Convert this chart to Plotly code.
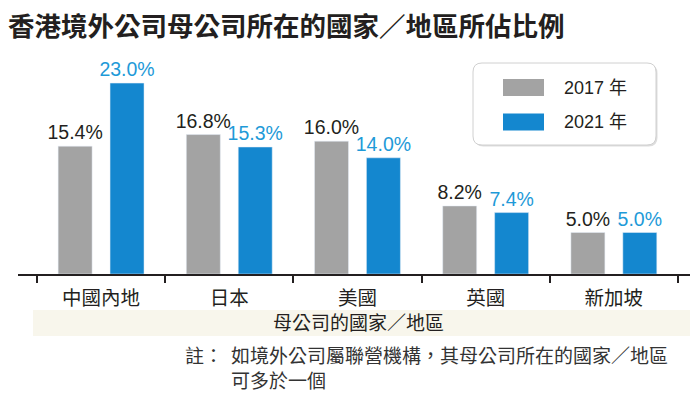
import plotly.graph_objects as go

categories = ["中國內地", "日本", "美國", "英國", "新加坡"]
values_2017 = [15.4, 16.8, 16.0, 8.2, 5.0]
values_2021 = [23.0, 15.3, 14.0, 7.4, 5.0]
series_names = ["2017 年", "2021 年"]
title_text = "香港境外公司母公司所在的國家／地區所佔比例"
axis_title = "母公司的國家／地區"
note_label = "註："
note_lines = ["如境外公司屬聯營機構，其母公司所在的國家／地區", "可多於一個"]

W, H = 700, 397
ML, MR, MT, MB = 18, 10, 66, 123
PW, PH = W - ML - MR, H - MT - MB
BASE = H - MB

def px2x(px):
    return (px - ML) / PW

def py2y(py):
    return (BASE - py) / PH

GRAY = "#a3a3a3"
BLUE = "#1487cf"
BLUE_TXT = "#1e9ad8"
DARK = "#231f20"
FONT = "Liberation Sans, Noto Sans CJK TC, sans-serif"
CJK = "Noto Sans CJK TC, sans-serif"

fig = go.Figure()
fig.add_trace(go.Bar(
    x=categories, y=values_2017, name=series_names[0],
    marker_color=GRAY, width=0.265, offset=-0.335,
    text=[f"{v:.1f}%" for v in values_2017], textposition="outside",
    constraintext="none",
    textfont=dict(color=DARK, size=19.5, family=FONT), cliponaxis=False,
))
fig.add_trace(go.Bar(
    x=categories, y=values_2021, name=series_names[1],
    marker_color=BLUE, width=0.265, offset=0.07,
    text=[f"{v:.1f}%" for v in values_2021], textposition="outside",
    constraintext="none",
    textfont=dict(color=BLUE_TXT, size=19.5, family=FONT), cliponaxis=False,
))

shapes = []
annotations = []

# axis title band
shapes.append(dict(type="rect", xref="paper", yref="paper",
                   x0=px2x(33), x1=px2x(690), y0=py2y(336), y1=py2y(310),
                   fillcolor="#f8f6ec", line=dict(width=0), layer="below"))
annotations.append(dict(text=axis_title, xref="paper", yref="paper",
                        x=px2x(358), y=py2y(321.5), showarrow=False,
                        xanchor="center", yanchor="middle",
                        font=dict(size=19, color=DARK, family=CJK)))

# note
annotations.append(dict(text=note_label, xref="paper", yref="paper",
                        x=px2x(183), y=py2y(354), showarrow=False,
                        xanchor="left", yanchor="middle",
                        font=dict(size=19, color="#333", family=CJK)))
annotations.append(dict(text="<br>".join(note_lines), xref="paper", yref="paper",
                        x=px2x(229), y=py2y(339), showarrow=False,
                        xanchor="left", yanchor="top", align="left",
                        font=dict(size=19, color="#333", family=CJK)))

# legend box (rounded)
x0, x1, y0, y1, r = 473, 656, 63, 145, 9
def rounded_path(x0, y0, x1, y1, r):
    X = lambda p: px2x(p)
    Y = lambda p: py2y(p)
    return (f"M {X(x0+r)} {Y(y0)} L {X(x1-r)} {Y(y0)} Q {X(x1)} {Y(y0)} {X(x1)} {Y(y0+r)} "
            f"L {X(x1)} {Y(y1-r)} Q {X(x1)} {Y(y1)} {X(x1-r)} {Y(y1)} "
            f"L {X(x0+r)} {Y(y1)} Q {X(x0)} {Y(y1)} {X(x0)} {Y(y1-r)} "
            f"L {X(x0)} {Y(y0+r)} Q {X(x0)} {Y(y0)} {X(x0+r)} {Y(y0)} Z")
shapes.append(dict(type="path", xref="paper", yref="paper",
                   path=rounded_path(x0 + 1.5, y0 + 1.5, x1 + 1.5, y1 + 1.5, r),
                   fillcolor="#dddddd", line=dict(width=0)))
shapes.append(dict(type="path", xref="paper", yref="paper",
                   path=rounded_path(x0, y0, x1, y1, r),
                   fillcolor="white", line=dict(color="#d0d0d0", width=1)))
for i, (name, col) in enumerate(zip(series_names, [GRAY, BLUE])):
    cy = 87.5 + 34.5 * i
    shapes.append(dict(type="rect", xref="paper", yref="paper",
                       x0=px2x(503), x1=px2x(544), y0=py2y(cy + 8.5), y1=py2y(cy - 8.5),
                       fillcolor=col, line=dict(width=0)))
    annotations.append(dict(text=name, xref="paper", yref="paper",
                            x=px2x(562), y=py2y(cy), showarrow=False,
                            xanchor="left", yanchor="middle",
                            font=dict(size=18, color=DARK, family=FONT)))

fig.update_layout(
    width=W, height=H,
    margin=dict(l=ML, r=MR, t=MT, b=MB, pad=0),
    paper_bgcolor="white", plot_bgcolor="white",
    showlegend=False,
    barmode="overlay",
    title=dict(text=f"<b>{title_text}</b>", x=8 / W, xref="container", xanchor="left",
               y=1 - 27 / H, yref="container", yanchor="middle",
               font=dict(size=26.5, color=DARK, family=CJK)),
    xaxis=dict(type="category", categoryorder="array", categoryarray=categories,
               range=[-0.648, 4.594], tickson="boundaries",
               ticks="outside", ticklen=7, tickwidth=2, tickcolor=DARK,
               showline=True, linecolor=DARK, linewidth=1.5,
               showgrid=False, zeroline=False, ticklabelstandoff=6,
               tickfont=dict(size=19.5, color=DARK, family=CJK)),
    yaxis=dict(visible=False, range=[0, PH / 8.3], showgrid=False, zeroline=False),
    shapes=shapes, annotations=annotations,
    font=dict(family=FONT),
    hovermode=False,
)

fig.write_html("out.html", config={"displayModeBar": False, "staticPlot": True},
               post_script="document.body.style.margin='0';document.body.style.padding='0';")
